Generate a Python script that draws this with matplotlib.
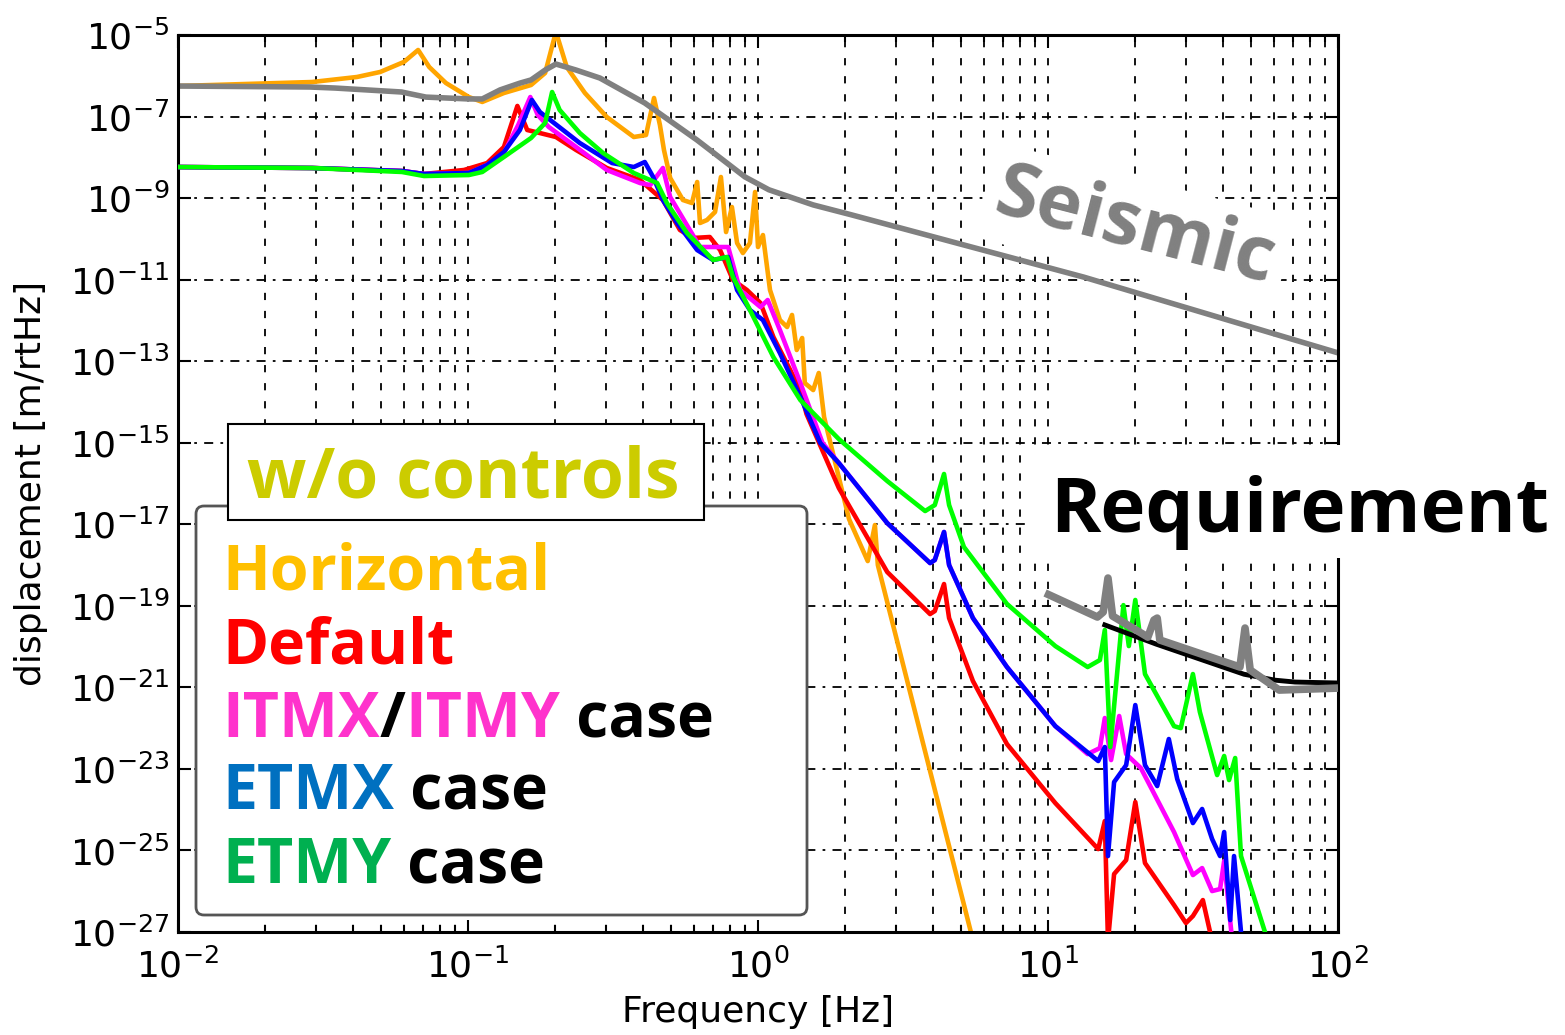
import matplotlib
matplotlib.use('Agg')
import matplotlib.pyplot as plt
from matplotlib.patches import FancyBboxPatch, Rectangle
from matplotlib.text import Annotation
from matplotlib.transforms import IdentityTransform
from matplotlib.ticker import NullLocator, NullFormatter

W, H = 1565, 1035

# ---- data (Hz, m/rtHz) ----
freq_horiz = [0.01, 0.029, 0.0414, 0.0498, 0.0601, 0.0673, 0.0735, 0.0839, 0.1007, 0.112,
              0.133, 0.165, 0.1845, 0.201, 0.219, 0.253, 0.301, 0.373, 0.411, 0.438,
              0.459, 0.474, 0.498, 0.551, 0.592, 0.617, 0.631, 0.667, 0.711, 0.745,
              0.776, 0.813, 0.847, 0.887, 0.938, 0.977, 1.0, 1.04, 1.10, 1.19,
              1.26, 1.31, 1.36, 1.42, 1.45, 1.55, 1.62, 1.69, 2.06, 2.39,
              2.53, 2.59, 5.42, 5.83]
disp_horiz = [5.61e-7, 7.03e-7, 9.33e-7, 1.24e-6, 2.18e-6, 4.29e-6, 1.64e-6, 6.65e-7, 3.01e-7, 2.28e-7,
              3.78e-7, 5.94e-7, 1.17e-6, 1.2e-5, 1.64e-6, 3.78e-7, 9.75e-8, 3.15e-8, 3.52e-8, 2.85e-7,
              6.19e-8, 1.51e-8, 3.11e-9, 8.97e-10, 7.57e-10, 2.48e-9, 2.45e-10, 2.90e-10, 4.56e-10, 3.29e-9,
              1.47e-10, 6.04e-10, 7.91e-11, 4.50e-11, 7.91e-11, 1.41e-9, 6.31e-11, 1.24e-10, 5.56e-12, 1.02e-12,
              6.89e-13, 1.36e-12, 1.88e-13, 3.70e-13, 2.91e-14, 1.96e-14, 5.13e-14, 4.27e-15, 1.34e-17, 1.25e-18,
              9.57e-18, 1.0e-18, 1e-27, 1.2e-28]

freq_default = [0.01, 0.029, 0.0592, 0.0705, 0.0969, 0.1164, 0.133, 0.148, 0.160, 0.177,
                0.201, 0.236, 0.301, 0.392, 0.470, 0.538, 0.597, 0.682, 0.740, 0.820,
                0.916, 1.02, 1.13, 1.40, 1.47, 1.90, 2.79, 3.92, 4.07, 4.38,
                4.56, 5.51, 7.22, 10.6, 14.9, 15.7, 16.1, 16.9, 18.6, 20.0,
                21.6, 27.2, 29.9, 31.6, 34.2, 36.8]
disp_default = [5.78e-9, 5.47e-9, 4.61e-9, 3.90e-9, 4.89e-9, 7.24e-9, 1.79e-8, 1.82e-7, 4.68e-8, 3.94e-8,
                3.15e-8, 1.51e-8, 5.47e-9, 2.77e-9, 8.97e-10, 1.65e-10, 1.05e-10, 1.11e-10, 5.32e-11, 9.79e-12,
                5.56e-12, 2.67e-12, 3.92e-13, 1.96e-14, 5.06e-15, 7.74e-17, 6.75e-19, 6.28e-20, 7.44e-20, 3.42e-19,
                5.01e-20, 1.43e-21, 4.06e-23, 1.45e-24, 1.08e-25, 5.26e-25, 6e-28, 2.64e-26, 5.81e-26, 1.54e-24,
                4.91e-26, 4.58e-27, 1.66e-27, 2.46e-27, 6.07e-27, 6e-28]

freq_itm = [0.01, 0.029, 0.0592, 0.0705, 0.1007, 0.1164, 0.133, 0.149, 0.164, 0.174,
            0.190, 0.236, 0.301, 0.392, 0.425, 0.470, 0.498, 0.631, 0.789, 0.867,
            1.02, 1.08, 1.19, 1.40, 1.67, 1.90, 2.79, 3.92, 4.07, 4.38,
            4.56, 5.51, 7.22, 10.6, 13.7, 15.1, 15.7, 16.5, 17.6, 18.6,
            20.9, 27.2, 31.6, 34.0, 36.8, 39.2, 40.5, 42.8, 43.8]
disp_itm = [5.78e-9, 5.47e-9, 4.61e-9, 3.90e-9, 4.12e-9, 6.47e-9, 1.28e-8, 6.21e-8, 3.01e-7, 1.09e-7,
            5.53e-8, 1.79e-8, 4.89e-9, 2.34e-9, 2.09e-9, 5.47e-9, 1.06e-9, 6.31e-11, 6.31e-11, 5.56e-12,
            2.13e-12, 3.16e-12, 5.81e-13, 2.91e-14, 9.84e-16, 3.18e-16, 1.07e-17, 1.12e-18, 1.33e-18, 6.46e-18,
            1.0e-18, 5.01e-20, 3.15e-21, 1.12e-22, 2.31e-23, 3.25e-23, 1.77e-22, 1.65e-23, 1.98e-22, 2.31e-23,
            1.05e-23, 2.83e-25, 2.49e-26, 3.70e-26, 1.01e-26, 1.13e-26, 5.5e-26, 1.12e-27, 1.5e-28]

freq_etmx = [0.01, 0.029, 0.0592, 0.0705, 0.1007, 0.1164, 0.133, 0.151, 0.166, 0.177,
             0.198, 0.243, 0.314, 0.373, 0.407, 0.435, 0.470, 0.526, 0.617, 0.700,
             0.789, 0.847, 0.938, 1.04, 1.19, 1.40, 1.64, 1.90, 2.79, 3.92,
             4.07, 4.38, 4.56, 5.51, 7.22, 10.6, 14.9, 15.7, 16.1, 16.9,
             18.6, 20.0, 21.6, 23.8, 26.1, 27.9, 31.6, 34.0, 36.8, 39.2,
             40.5, 42.5, 43.8, 46.3, 47.4]
disp_etmx = [5.78e-9, 5.47e-9, 4.61e-9, 3.90e-9, 4.12e-9, 6.47e-9, 1.35e-8, 4.68e-8, 2.55e-7, 1.29e-7,
             6.95e-8, 2.24e-8, 7.24e-9, 5.78e-9, 7.67e-9, 3.29e-9, 8.97e-10, 2.45e-10, 5.32e-11, 3.03e-11,
             3.59e-11, 5.56e-12, 1.80e-12, 1.02e-12, 1.58e-13, 1.32e-14, 9.84e-16, 3.18e-16, 1.07e-17, 1.12e-18,
             1.33e-18, 6.46e-18, 1.0e-18, 5.01e-20, 3.15e-21, 1.12e-22, 1.56e-23, 3.44e-23, 7.29e-26, 4.76e-24,
             1.24e-23, 3.68e-22, 1.24e-23, 3.80e-24, 5.40e-23, 5.64e-24, 4.70e-25, 1.04e-24, 1.91e-25, 7.29e-26,
             2.83e-25, 1.96e-27, 7.29e-26, 1e-27, 2e-28]

freq_etmy = [0.01, 0.029, 0.0592, 0.0705, 0.1007, 0.112, 0.133, 0.165, 0.1845, 0.195,
             0.207, 0.243, 0.292, 0.373, 0.449, 0.485, 0.569, 0.700, 0.782, 0.820,
             0.938, 1.13, 1.40, 1.90, 2.79, 3.77, 4.07, 4.38, 4.56, 5.13,
             7.22, 10.6, 13.7, 15.1, 15.7, 16.4, 18.2, 19.0, 20.0, 21.6,
             27.2, 28.7, 31.6, 33.4, 38.3, 40.5, 42.1, 44.2, 46.3, 56.0,
             60.7]
disp_etmy = [5.78e-9, 5.47e-9, 4.37e-9, 3.48e-9, 3.68e-9, 4.37e-9, 1.02e-8, 2.98e-8, 6.95e-8, 4.0e-7,
             1.45e-7, 3.94e-8, 1.28e-8, 4.12e-9, 2.34e-9, 7.57e-10, 1.39e-10, 3.03e-11, 3.59e-11, 1.16e-11,
             1.80e-12, 1.26e-13, 1.11e-14, 1.23e-15, 1.15e-16, 2.11e-17, 2.96e-17, 1.71e-16, 2.96e-17, 2.77e-18,
             1.11e-19, 1.03e-20, 3.15e-21, 4.68e-21, 2.55e-20, 3.44e-23, 1.04e-19, 1.03e-20, 1.39e-19, 2.12e-21,
             1.12e-22, 1.0e-22, 2.12e-21, 2.48e-22, 7.06e-24, 2.07e-23, 5.33e-24, 1.85e-23, 7.29e-26, 1e-27,
             1.5e-28]

freq_seismic = [0.01, 0.0285, 0.0348, 0.059, 0.0716, 0.1007, 0.112, 0.129, 0.151, 0.165,
                0.1845, 0.201, 0.236, 0.285, 0.407, 0.616, 0.902, 1.09, 1.55, 2.11,
                13.3, 100.0]
disp_seismic = [5.6e-7, 5.3e-7, 5.0e-7, 4.0e-7, 3.0e-7, 2.7e-7, 2.7e-7, 4.5e-7, 6.6e-7, 7.9e-7,
                1.38e-6, 1.94e-6, 1.38e-6, 8.8e-7, 2.15e-7, 2.66e-8, 3.3e-9, 1.6e-9, 6.8e-10, 3.85e-10,
                1.15e-11, 1.6e-13]

freq_req_gray = [9.77, 14.8, 15.5, 16.1, 16.7, 22.1, 23.2, 23.8, 24.3, 45.9, 47.8, 49.8, 62.7, 100.0]
disp_req_gray = [2.06e-19, 5.31e-20, 7.03e-20, 4.80e-19, 5.61e-20, 1.71e-20, 4.48e-20, 5.0e-20, 1.45e-20,
                 3.15e-21, 2.85e-20, 2.66e-21, 8.59e-22, 9.6e-22]

freq_req_black = [15.7, 23.6, 47.4, 60.7, 71.1, 100.0]
disp_req_black = [3.4e-20, 1.15e-20, 2.1e-21, 1.5e-21, 1.35e-21, 1.28e-21]

ytick_vals = [1e-5, 1e-7, 1e-9, 1e-11, 1e-13, 1e-15, 1e-17, 1e-19, 1e-21, 1e-23, 1e-25, 1e-27]

fig = plt.figure(figsize=(W / 100, H / 100), dpi=100)
ax = fig.add_axes([178 / W, 1 - 932 / H, (1338 - 178) / W, (932 - 35) / H])
ax.set_xscale('log')
ax.set_yscale('log')

lw = 3.3
ax.plot(freq_horiz, disp_horiz, color='#FFA500', lw=lw, zorder=2)
ax.plot(freq_seismic, disp_seismic, color='#808080', lw=4, zorder=2.5)
ax.plot(freq_default, disp_default, color='#FF0000', lw=lw, zorder=3)
ax.plot(freq_itm, disp_itm, color='#FF00FF', lw=lw, zorder=3.1)
ax.plot(freq_etmx, disp_etmx, color='#0000FF', lw=lw, zorder=3.2)
ax.plot(freq_etmy, disp_etmy, color='#00FF00', lw=lw, zorder=3.3)
ax.plot(freq_req_black, disp_req_black, color='black', lw=3.5, zorder=3.4)
ax.plot(freq_req_gray, disp_req_gray, color='#808080', lw=5.5, zorder=3.5, solid_capstyle='butt')

ax.set_xlim(1e-2, 1e2)
ax.set_ylim(1e-27, 1e-5)
ax.set_yticks(ytick_vals)
ax.yaxis.set_minor_locator(NullLocator())
ax.xaxis.set_minor_formatter(NullFormatter())

ax.grid(True, which='major', axis='x', color='k', lw=1.3, ls=(0, (4, 6)))
ax.grid(True, which='minor', axis='x', color='k', lw=1.3, ls=(0, (4, 6)))
ax.grid(True, which='major', axis='y', color='k', lw=1.3, ls=(0, (5, 4, 1.5, 4)))

ax.tick_params(which='both', direction='in', top=True, right=True, width=1.5)
ax.tick_params(which='major', length=9, labelsize=26)
ax.tick_params(axis='y', which='major', pad=6)
ax.tick_params(axis='x', which='major', pad=12)
ax.tick_params(which='minor', length=5)
for s in ax.spines.values():
    s.set_linewidth(2.2)

ax.set_xlabel('Frequency [Hz]', fontsize=26)
ax.set_ylabel('displacement [m/rtHz]', fontsize=26)
ax.xaxis.set_label_coords(0.5, -0.07)
ax.yaxis.set_label_coords(-0.112, 0.5)


def fx(px):
    return px / W


def fy(py):
    return 1 - py / H


# white patches behind the big labels, and the legend boxes (pixel coords)
fig.add_artist(Rectangle((1028, H - 558), W - 1028, 113, transform=IdentityTransform(),
                         facecolor='white', edgecolor='none', zorder=4))
fig.add_artist(FancyBboxPatch((196, H - 915), 611, 409, transform=IdentityTransform(),
                              boxstyle='round,pad=0,rounding_size=8',
                              facecolor='white', edgecolor='#555555', lw=2, zorder=4))
fig.add_artist(Rectangle((228, H - 520), 476, 96, transform=IdentityTransform(),
                         facecolor='white', edgecolor='black', lw=1.5, zorder=4.5))

bold = dict(family=['Open Sans', 'DejaVu Sans'], fontweight='bold')

fig.text(fx(1135), fy(228), 'Seismic', color='#808080', fontsize=55, rotation=-14.5,
         rotation_mode='anchor', ha='center', va='center', zorder=5,
         bbox=dict(facecolor='white', edgecolor='none', pad=8), **bold)
fig.text(fx(1050), fy(532), 'Requirement', color='black', fontsize=55,
         va='baseline', ha='left', zorder=5, **bold)
fig.text(fx(247), fy(498), 'w/o controls', color='#CCCC00', fontsize=50,
         va='baseline', ha='left', zorder=5, **bold)

legend_lines = [
    (590, [('Horizontal', '#FFC000')]),
    (663, [('Default', '#FF0000')]),
    (737, [('ITMX', '#FF33CC'), ('/', 'black'), ('ITMY', '#FF33CC'), (' case', 'black')]),
    (809, [('ETMX', '#0070C0'), (' case', 'black')]),
    (883, [('ETMY', '#00B050'), (' case', 'black')]),
]
for base, parts in legend_lines:
    prev = None
    for txt, col in parts:
        if prev is None:
            prev = fig.text(fx(222), fy(base), txt, color=col, fontsize=45,
                            va='baseline', ha='left', zorder=5, **bold)
        else:
            ann = Annotation(txt, xy=(1, 0), xycoords=prev, va='bottom', ha='left',
                             color=col, fontsize=45, zorder=5, **bold)
            fig.add_artist(ann)
            prev = ann

fig.savefig('out.png', dpi=100)
